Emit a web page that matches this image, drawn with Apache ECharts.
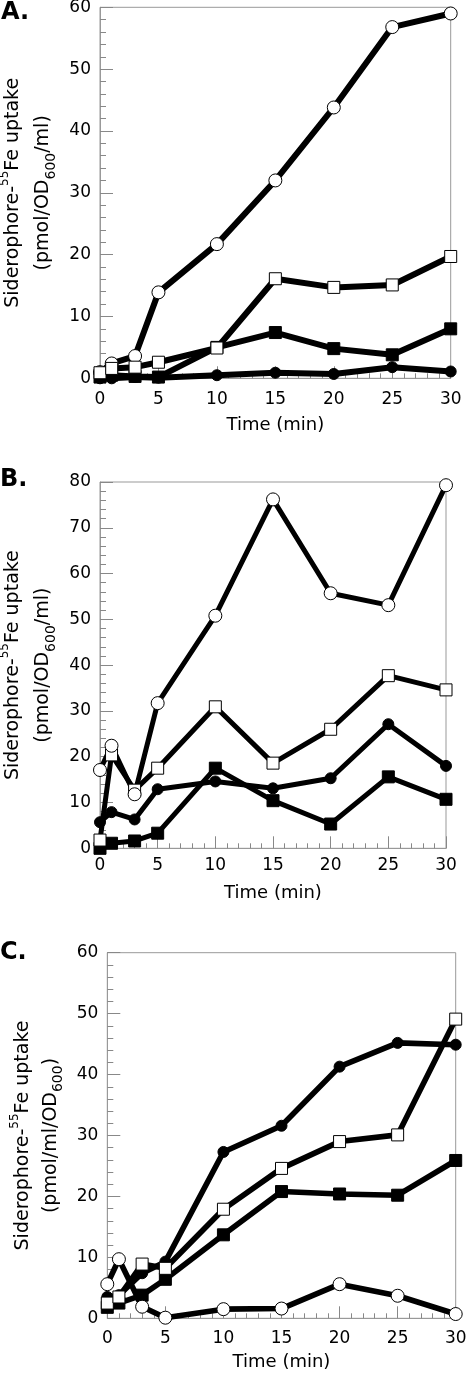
<!DOCTYPE html>
<html>
<head>
<meta charset="utf-8">
<script src="https://cdn.jsdelivr.net/npm/echarts@6/dist/echarts.min.js"></script>
<style>
html,body{margin:0;padding:0;background:#fff;}
#chart{width:466px;height:1374px;}
</style>
</head>
<body>
<div id="chart"></div>
<script>
// Time points (min)
const times = [0, 1, 3, 5, 10, 15, 20, 25, 30];

// Panel A
const aOpenCircle   = [1.0, 2.4, 3.6, 13.9, 21.7, 32.0, 43.8, 56.8, 59.0];
const aOpenSquare   = [0.9, 1.6, 1.8, 2.6, 4.9, 16.1, 14.7, 15.1, 19.7];
const aFilledSquare = [0.2, 0.5, 0.3, 0.2, 5.0, 7.4, 4.8, 3.8, 8.0];
const aFilledCircle = [0.0, 0.0, 0.2, 0.1, 0.5, 0.9, 0.7, 1.8, 1.1];

// Panel B
const bOpenCircle   = [17.1, 22.4, 11.8, 31.7, 50.8, 76.2, 55.7, 53.1, 79.3];
const bOpenSquare   = [1.8, 20.4, 12.7, 17.5, 30.9, 18.6, 26.0, 37.7, 34.6];
const bFilledCircle = [5.7, 7.9, 6.3, 12.9, 14.6, 13.1, 15.3, 27.1, 18.0];
const bFilledSquare = [0.0, 1.1, 1.6, 3.3, 17.5, 10.4, 5.3, 15.6, 10.7];

// Panel C
const cOpenCircle   = [5.6, 9.7, 1.9, 0.1, 1.5, 1.6, 5.6, 3.7, 0.7];
const cFilledCircle = [3.5, 3.8, 7.4, 9.3, 27.3, 31.6, 41.3, 45.2, 44.9];
const cOpenSquare   = [2.5, 3.5, 8.9, 8.2, 17.9, 24.6, 29.0, 30.1, 49.1];
const cFilledSquare = [1.8, 2.5, 3.8, 6.4, 13.7, 20.8, 20.4, 20.2, 25.9];

const yMaxA = 60, yMaxB = 80, yMaxC = 60;

const FONT = 'DejaVu Sans';
const chart = echarts.init(document.getElementById('chart'), null, {renderer: 'canvas'});

function pair(vals) { return times.map((t, i) => [t, vals[i]]); }

function xAxisCfg(gi, margin, nameGap) {
  return {
    gridIndex: gi, type: 'value', min: 0, max: 30, interval: 5,
    name: 'Time (min)', nameLocation: 'middle', nameGap: nameGap,
    nameTextStyle: {fontFamily: FONT, fontSize: 18, color: '#000'},
    axisLine: {show: true, lineStyle: {color: '#999', width: 1}},
    axisTick: {show: true, inside: true, length: 12, lineStyle: {color: '#888', width: 1}},
    minorTick: {show: true, splitNumber: 5, length: 5, lineStyle: {color: '#888', width: 1}},
    splitLine: {show: false},
    axisLabel: {fontFamily: FONT, fontSize: 17, color: '#000', margin: margin}
  };
}

function yAxisCfg(gi, max, name, nameGap, lh) {
  return {
    gridIndex: gi, type: 'value', min: 0, max: max, interval: 10,
    name: name, nameLocation: 'middle', nameGap: nameGap, nameRotate: 90,
    nameTextStyle: {
      fontFamily: FONT, fontSize: 19, color: '#000', lineHeight: lh,
      rich: {
        m: {fontFamily: FONT, fontSize: 19, color: '#000', lineHeight: lh},
        sup: {fontFamily: FONT, fontSize: 12, color: '#000', lineHeight: 12, verticalAlign: 'top'},
        sub: {fontFamily: FONT, fontSize: 14, color: '#000', lineHeight: 6, verticalAlign: 'bottom'}
      }
    },
    axisLine: {show: true, lineStyle: {color: '#999', width: 1}},
    axisTick: {show: true, inside: true, length: 13, lineStyle: {color: '#888', width: 1}},
    minorTick: {show: true, splitNumber: 5, length: 6, lineStyle: {color: '#888', width: 1}},
    splitLine: {show: false},
    axisLabel: {fontFamily: FONT, fontSize: 17, color: '#000', margin: 9}
  };
}

const series = [];
function addPanel(gi, sets, lw) {
  sets.forEach(s => {
    series.push({
      type: 'line', xAxisIndex: gi, yAxisIndex: gi, data: pair(s.vals),
      symbol: 'none', lineStyle: {color: '#000', width: lw}, z: 2, silent: true
    });
  });
  sets.forEach(s => {
    series.push({
      type: 'scatter', xAxisIndex: gi, yAxisIndex: gi, data: pair(s.vals),
      symbol: s.sym, symbolSize: s.size,
      itemStyle: {color: s.fill, borderColor: '#000', borderWidth: 1, opacity: 1},
      z: 3, silent: true
    });
  });
}

const OC = {sym: 'circle', size: 13, fill: '#fff'};
const FC = {sym: 'circle', size: 11, fill: '#000'};
const OS = {sym: 'rect', size: 12, fill: '#fff'};
const FS = {sym: 'rect', size: 12, fill: '#000'};

addPanel(0, [
  Object.assign({vals: aFilledCircle}, FC),
  Object.assign({vals: aFilledSquare}, FS),
  Object.assign({vals: aOpenCircle}, OC),
  Object.assign({vals: aOpenSquare}, OS)
], 6);
addPanel(1, [
  Object.assign({vals: bFilledSquare}, FS),
  Object.assign({vals: bFilledCircle}, FC),
  Object.assign({vals: bOpenSquare}, OS),
  Object.assign({vals: bOpenCircle}, OC)
], 5);
addPanel(2, [
  Object.assign({vals: cFilledSquare}, FS),
  Object.assign({vals: cFilledCircle}, FC),
  Object.assign({vals: cOpenSquare}, OS),
  Object.assign({vals: cOpenCircle}, OC)
], 5.6);

const nameAB = '{m|Siderophore-}{sup|55}{m|Fe uptake}\n{m|(pmol/OD}{sub|600}{m|/ml)}';
const nameC = '{m|Siderophore-}{sup|55}{m|Fe uptake}\n{m|(pmol/ml/OD}{sub|600}{m|)}';

const titleStyle = {fontFamily: FONT, fontWeight: 'bold', fontSize: 24, color: '#000'};

const gridBase = {show: true, borderColor: '#999', borderWidth: 1, containLabel: false, outerBoundsMode: 'none'};

chart.setOption({
  animation: false,
  backgroundColor: '#fff',
  title: [
    {text: 'A.', left: 1, top: 1, padding: 0, textStyle: titleStyle},
    {text: 'B.', left: 0, top: 468, padding: 0, textStyle: titleStyle},
    {text: 'C.', left: 0, top: 941, padding: 0, textStyle: titleStyle}
  ],
  grid: [
    Object.assign({left: 100, top: 7.3, width: 350.7, height: 371}, gridBase),
    Object.assign({left: 100, top: 482, width: 346, height: 366.3}, gridBase),
    Object.assign({left: 107.3, top: 952.7, width: 348.4, height: 365.6}, gridBase)
  ],
  xAxis: [xAxisCfg(0, 13, 38), xAxisCfg(1, 9, 36), xAxisCfg(2, 11.5, 35)],
  yAxis: [yAxisCfg(0, yMaxA, nameAB, 35, 30), yAxisCfg(1, yMaxB, nameAB, 35, 30), yAxisCfg(2, yMaxC, nameC, 42, 28)],
  series: series
});
</script>
</body>
</html>
